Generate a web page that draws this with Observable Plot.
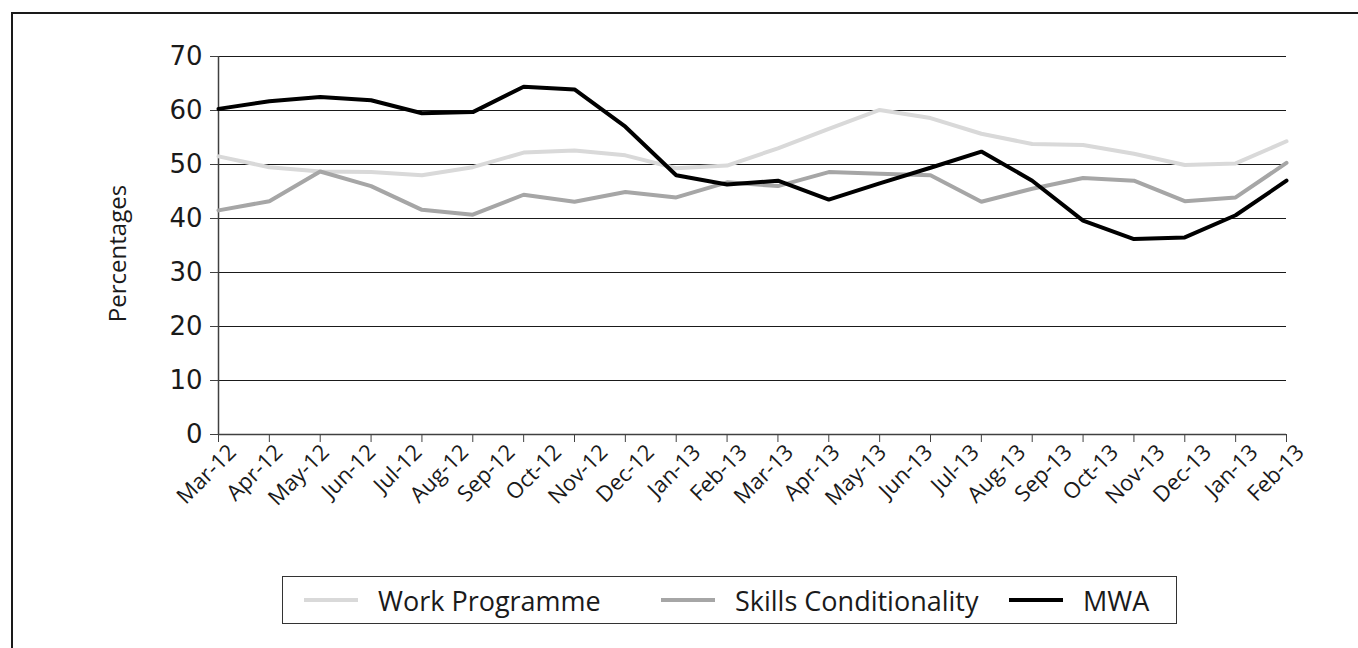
<!DOCTYPE html>
<html><head><meta charset="utf-8">
<script src="https://cdn.jsdelivr.net/npm/d3@7"></script>
<script src="https://cdn.jsdelivr.net/npm/@observablehq/plot@0.6"></script>
<style>
body{margin:0;background:#fff;font-family:"Open Sans",sans-serif;}
#wrap{position:relative;width:1358px;height:648px;overflow:hidden;background:#fff}
#frame{position:absolute;left:11px;top:12px;width:1400px;height:700px;border:2px solid #1a1a1a;box-sizing:border-box}
#chart{position:absolute;left:0;top:0}
#legend{position:absolute;left:282px;top:576px;width:895px;height:48px;border:1px solid #333;box-sizing:border-box;background:#fff}
.item{position:absolute;top:0;height:100%;display:flex;align-items:center}
.sw{width:54px;height:4px;margin-right:20px}
.lab{font-size:27px;color:#1a1a1a;white-space:nowrap;line-height:1}
</style></head><body>
<div id="wrap"><div id="frame"></div><div id="chart"></div><div id="legend"></div></div>
<script>
const monthLabels = ["Mar-12","Apr-12","May-12","Jun-12","Jul-12","Aug-12","Sep-12","Oct-12","Nov-12","Dec-12","Jan-13","Feb-13","Mar-13","Apr-13","May-13","Jun-13","Jul-13","Aug-13","Sep-13","Oct-13","Nov-13","Dec-13","Jan-13","Feb-13"];
const workProgramme = [51.5,49.5,48.7,48.6,48.0,49.5,52.2,52.6,51.7,49.3,49.8,53.0,56.6,60.1,58.6,55.7,53.8,53.6,52.0,49.9,50.2,54.3];
const skillsConditionality = [41.5,43.2,48.7,46.0,41.6,40.7,44.4,43.1,44.9,43.9,46.7,46.0,48.6,48.3,48.0,43.1,45.5,47.5,47.0,43.2,43.9,50.3];
const mwa = [60.3,61.7,62.5,61.9,59.5,59.7,64.4,63.9,57.0,48.0,46.3,47.0,43.5,46.5,49.4,52.4,47.0,39.6,36.2,36.5,40.6,47.0];
const seriesNames = ["Work Programme","Skills Conditionality","MWA"];
const seriesColors = ["#d9d9d9","#a6a6a6","#000000"];
const yTicks = [0,10,20,30,40,50,60,70];
const yLabel = "Percentages";

const seriesValues = [workProgramme, skillsConditionality, mwa];
const nPts = mwa.length;
const rows = [];
seriesValues.forEach((vals, s) => vals.forEach((v, i) => rows.push({i, value: v, series: seriesNames[s]})));
const pointIdx = d3.range(nPts);
const labelPos = monthLabels.map((_, k) => k * (nPts - 1) / (monthLabels.length - 1));

const font = "Open Sans, sans-serif";
const chart = Plot.plot({
  width: 1358, height: 560,
  marginLeft: 218, marginRight: 72, marginTop: 56, marginBottom: 126,
  style: {fontFamily: font, background: "transparent", color: "#1a1a1a"},
  x: {type: "linear", domain: [0, nPts - 1]},
  y: {domain: [0, 70]},
  color: {domain: seriesNames, range: seriesColors},
  marks: [
    Plot.ruleY(yTicks.slice(1), {x1: 0, x2: nPts - 1, stroke: "#1a1a1a", strokeWidth: 1}),
    Plot.ruleY([0], {x1: 0, x2: nPts - 1, stroke: "#404040", strokeWidth: 1.5}),
    Plot.ruleX([0], {y1: 0, y2: 70, stroke: "#404040", strokeWidth: 1.5}),
    Plot.axisY({ticks: yTicks, tickSize: 8, tickPadding: 8, fontSize: 26, fontFamily: "DejaVu Sans, sans-serif", label: null, stroke: "#404040"}),
    Plot.axisX({ticks: pointIdx, tickSize: 8, tickFormat: () => "", label: null, stroke: "#404040"}),
    Plot.text(monthLabels, {x: (d, k) => labelPos[k], frameAnchor: "bottom", rotate: -45, textAnchor: "end", dx: 19, dy: 19, fontSize: 22, fill: "#1a1a1a"}),
    Plot.text([yLabel], {frameAnchor: "left", rotate: -90, textAnchor: "middle", dx: -100, dy: 8, fontSize: 24, fill: "#1a1a1a"}),
    Plot.line(rows, {x: "i", y: "value", z: "series", stroke: "series", strokeWidth: 4, strokeLinejoin: "miter"})
  ]
});
document.getElementById("chart").appendChild(chart);

const legendLeft = [21, 378, 726];
const legend = document.getElementById("legend");
seriesNames.forEach((name, s) => {
  const it = document.createElement("div");
  it.className = "item";
  it.style.left = legendLeft[s] + "px";
  it.innerHTML = `<div class="sw" style="background:${seriesColors[s]}"></div><div class="lab">${name}</div>`;
  legend.appendChild(it);
});
</script>
</body></html>
